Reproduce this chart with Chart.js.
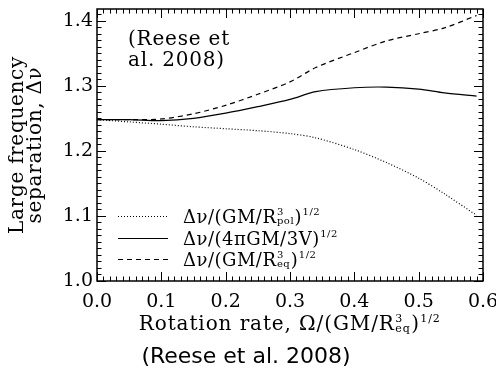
<!DOCTYPE html>
<html><head><meta charset="utf-8">
<script src="https://cdn.jsdelivr.net/npm/chart.js@4.4.1/dist/chart.umd.min.js"></script>
<style>html,body{margin:0;padding:0;background:#fff;}#wrap{width:496px;height:375px;}</style>
</head><body><div id="wrap"><canvas id="c" width="496" height="375"></canvas></div>
<script>
// ---- data ----
const rotationRate   = [0, 0.05, 0.1, 0.15, 0.2, 0.25, 0.3, 0.34, 0.4, 0.45, 0.5, 0.54, 0.59];
const sepPolar       = [1.248, 1.2445, 1.241, 1.237, 1.234, 1.231, 1.2265, 1.220, 1.202, 1.182, 1.158, 1.134, 1.101];
const sepVolume      = [1.248, 1.248, 1.2465, 1.250, 1.258, 1.268, 1.279, 1.291, 1.297, 1.298, 1.295, 1.289, 1.284];
const sepEquatorial  = [1.248, 1.248, 1.249, 1.257, 1.270, 1.287, 1.306, 1.328, 1.351, 1.369, 1.380, 1.389, 1.408];
const xTickLabels    = ['0.0', '0.1', '0.2', '0.3', '0.4', '0.5', '0.6'];
const yTickLabels    = ['1.0', '1.1', '1.2', '1.3', '1.4'];
const seriesNames    = ['pol', '4piV', 'eq'];

const SERIF = '"DejaVu Serif", serif';
const FS = 19;

function pts(ys) { return rotationRate.map((x, i) => ({x: x, y: ys[i]})); }

function richWidth(ctx, parts, fs) {
  let w = 0;
  parts.forEach(p => {
    if (p.t !== undefined) { ctx.font = fs + 'px ' + SERIF; w += ctx.measureText(p.t).width; }
    else {
      ctx.font = Math.round(fs * 0.55) + 'px ' + SERIF;
      const a = p.sup ? ctx.measureText(p.sup).width : 0;
      const b = p.sub ? ctx.measureText(p.sub).width : 0;
      w += Math.max(a, b) + 1;
    }
  });
  return w;
}
function drawRich(ctx, parts, x, y, fs, align) {
  let cx = x;
  if (align === 'center') cx = x - richWidth(ctx, parts, fs) / 2;
  ctx.textBaseline = 'alphabetic';
  ctx.textAlign = 'left';
  parts.forEach(p => {
    if (p.t !== undefined) {
      ctx.font = fs + 'px ' + SERIF;
      ctx.fillText(p.t, cx, y);
      cx += ctx.measureText(p.t).width;
    } else {
      const sfs = Math.round(fs * 0.55);
      ctx.font = sfs + 'px ' + SERIF;
      let w = 0;
      if (p.sup) { ctx.fillText(p.sup, cx + 0.5, y - fs * 0.42); w = Math.max(w, ctx.measureText(p.sup).width); }
      if (p.sub) { ctx.fillText(p.sub, cx + 0.5, y + fs * 0.08); w = Math.max(w, ctx.measureText(p.sub).width); }
      cx += w + 1;
    }
  });
}

const dashes = { pol: [1, 2], '4piV': [], eq: [5, 4] };
const legendParts = {
  pol:  [{t: 'Δν/(GM/R'}, {sup: '3', sub: 'pol'}, {t: ')'}, {sup: '1/2'}],
  '4piV': [{t: 'Δν/(4πGM/3V)'}, {sup: '1/2'}],
  eq:   [{t: 'Δν/(GM/R'}, {sup: '3', sub: 'eq'}, {t: ')'}, {sup: '1/2'}]
};

const decor = {
  id: 'decor',
  afterDraw(chart) {
    const ctx = chart.ctx;
    const xs = chart.scales.x, ys = chart.scales.y;
    const L = xs.getPixelForValue(0), R = xs.getPixelForValue(0.6);
    const T = chart.chartArea.top, B = ys.getPixelForValue(1.0);
    ctx.save();
    ctx.strokeStyle = '#000';
    ctx.fillStyle = '#000';
    ctx.lineWidth = 1.5;
    ctx.strokeRect(L, T, R - L, B - T);
    ctx.lineWidth = 1;
    ctx.beginPath();
    for (let i = 0; i <= 60; i++) {
      const px = Math.round(xs.getPixelForValue(i / 100)) + 0.5;
      const len = (i % 10 === 0) ? 9 : 4.5;
      ctx.moveTo(px, B); ctx.lineTo(px, B - len);
      ctx.moveTo(px, T); ctx.lineTo(px, T + len);
    }
    for (let i = 100; i <= 141; i++) {
      const py = Math.round(ys.getPixelForValue(i / 100)) + 0.5;
      const len = (i % 10 === 0) ? 9 : 4.5;
      ctx.moveTo(L, py); ctx.lineTo(L + len, py);
      ctx.moveTo(R, py); ctx.lineTo(R - len, py);
    }
    ctx.stroke();

    // legend
    const rows = [216, 238, 259];
    ctx.letterSpacing = '0.5px';
    chart.data.datasets.forEach((ds, k) => {
      const y = rows[k];
      ctx.beginPath();
      ctx.setLineDash(ds.borderDash || []);
      ctx.lineWidth = 1.2;
      ctx.moveTo(118, y + 0.5); ctx.lineTo(168, y + 0.5);
      ctx.stroke();
      ctx.setLineDash([]);
      drawRich(ctx, legendParts[ds.key], 183, y + 7, 18, 'left');
    });

    // annotation
    ctx.letterSpacing = '0.8px';
    ctx.font = '20px ' + SERIF;
    ctx.textAlign = 'left';
    ctx.textBaseline = 'middle';
    ctx.fillText('(Reese et', 128, 40);
    ctx.fillText('al. 2008)', 128, 61);

    // y title
    ctx.save();
    ctx.letterSpacing = '0.7px';
    ctx.translate(0, (T + B) / 2);
    ctx.rotate(-Math.PI / 2);
    ctx.textAlign = 'center';
    ctx.textBaseline = 'middle';
    ctx.font = '20px ' + SERIF;
    ctx.fillText('Large frequency', 0, 18);
    ctx.fillText('separation, Δν', 0, 36);
    ctx.restore();

    // x title
    ctx.letterSpacing = '0.9px';
    drawRich(ctx, [{t: 'Rotation rate, Ω/(GM/R'}, {sup: '3', sub: 'eq'}, {t: ')'}, {sup: '1/2'}], (L + R) / 2, 330, 20, 'center');

    // caption
    ctx.letterSpacing = '0px';
    ctx.font = '22px "DejaVu Sans", sans-serif';
    ctx.textAlign = 'center';
    ctx.textBaseline = 'middle';
    ctx.fillText('(Reese et al. 2008)', 246, 357);
    ctx.restore();
  }
};

new Chart(document.getElementById('c'), {
  type: 'line',
  data: {
    datasets: [
      { key: seriesNames[0], data: pts(sepPolar), borderColor: '#000', borderWidth: 1.2, borderDash: dashes.pol, pointRadius: 0, fill: false, tension: 0.3 },
      { key: seriesNames[1], data: pts(sepVolume), borderColor: '#000', borderWidth: 1.2, borderDash: dashes['4piV'], pointRadius: 0, fill: false, tension: 0.3 },
      { key: seriesNames[2], data: pts(sepEquatorial), borderColor: '#000', borderWidth: 1.2, borderDash: dashes.eq, pointRadius: 0, fill: false, tension: 0.3 }
    ]
  },
  options: {
    responsive: false,
    animation: false,
    devicePixelRatio: 1,
    layout: { padding: { top: 9, right: 13, left: 0, bottom: 0 } },
    plugins: { legend: { display: false }, tooltip: { enabled: false }, title: { display: false } },
    scales: {
      x: {
        type: 'linear', min: 0, max: 0.6,
        grid: { display: false, drawTicks: false }, border: { display: false },
        afterBuildTicks: (s) => { s.ticks = xTickLabels.map(l => ({ value: parseFloat(l) })); },
        ticks: {
          autoSkip: false, maxRotation: 0, color: '#000', padding: 10,
          font: { family: SERIF, size: FS },
          callback: (v, i) => xTickLabels[i]
        },
        afterFit: (s) => { s.height = 94; s.paddingLeft = 0; s.paddingRight = 0; }
      },
      y: {
        type: 'linear', min: 1.0, max: 1.418,
        grid: { display: false, drawTicks: false }, border: { display: false },
        afterBuildTicks: (s) => { s.ticks = yTickLabels.map(l => ({ value: parseFloat(l) })); },
        ticks: {
          autoSkip: false, color: '#000', padding: 4,
          font: { family: SERIF, size: FS },
          callback: (v, i) => yTickLabels[i]
        },
        afterFit: (s) => { s.width = 97; s.paddingTop = 0; s.paddingBottom = 0; }
      }
    }
  },
  plugins: [decor]
});
</script>
</body></html>
